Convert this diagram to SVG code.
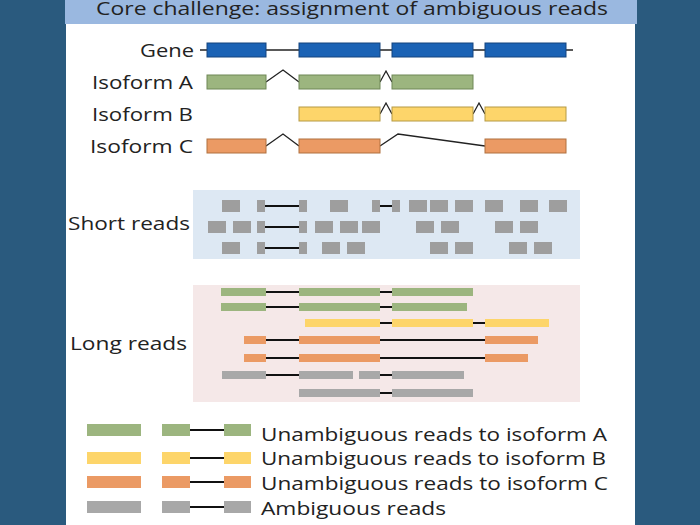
<svg xmlns="http://www.w3.org/2000/svg" width="700" height="525" viewBox="0 0 700 525">
<style>
text{font-family:"Open Sans","Liberation Sans",Arial,sans-serif;font-size:19px;fill:#222}
.b{fill:#1b63b5;stroke:#14457e}.g{fill:#9cb57f;stroke:#6f8757}.y{fill:#fdd56a;stroke:#b59a45}.o{fill:#eb9a64;stroke:#b0703f}.s{fill:#9e9e9e}
.l{stroke:#222;stroke-width:1.3;fill:none}.t{stroke:#111;stroke-width:2;fill:none}
</style>
<rect width="700" height="525" fill="#2a5a7e"/>
<rect x="66" y="0" width="569" height="525" fill="#fff"/>
<rect x="65" y="0" width="572" height="24" fill="#9ab8e0"/>
<text x="96" y="15" textLength="512" lengthAdjust="spacingAndGlyphs">Core challenge: assignment of ambiguous reads</text>
<g id="connectors">
<path class="l" d="M200 50H573"/>
<path class="l" d="M266 82L283 70L299 82M380 82L386 71L392 82"/>
<path class="l" d="M380 114L386 103L392 114M473 114L479 103L485 114"/>
<path class="l" d="M266 146L283 134L299 146M380 146L398 134L485 146"/>
</g>
<g id="gene"><text x="140" y="57" textLength="54" lengthAdjust="spacingAndGlyphs">Gene</text>
<rect class="b" x="207" y="43" width="59" height="14"/><rect class="b" x="299" y="43" width="81" height="14"/><rect class="b" x="392" y="43" width="81" height="14"/><rect class="b" x="485" y="43" width="81" height="14"/></g>
<g id="isoA"><text x="92" y="89" textLength="101" lengthAdjust="spacingAndGlyphs">Isoform A</text>
<rect class="g" x="207" y="75" width="59" height="14"/><rect class="g" x="299" y="75" width="81" height="14"/><rect class="g" x="392" y="75" width="81" height="14"/></g>
<g id="isoB"><text x="92" y="121" textLength="101" lengthAdjust="spacingAndGlyphs">Isoform B</text>
<rect class="y" x="299" y="107" width="81" height="14"/><rect class="y" x="392" y="107" width="81" height="14"/><rect class="y" x="485" y="107" width="81" height="14"/></g>
<g id="isoC"><text x="90" y="153" textLength="103" lengthAdjust="spacingAndGlyphs">Isoform C</text>
<rect class="o" x="207" y="139" width="59" height="14"/><rect class="o" x="299" y="139" width="81" height="14"/><rect class="o" x="485" y="139" width="81" height="14"/></g>
<g id="short">
<rect x="193" y="190" width="387" height="69" fill="#dde8f3"/>
<text x="68" y="230" textLength="122" lengthAdjust="spacingAndGlyphs">Short reads</text>
<g class="s">
<rect x="222" y="200" width="18" height="12"/><rect x="257" y="200" width="8" height="12"/><rect x="299" y="200" width="8" height="12"/><rect x="330" y="200" width="18" height="12"/><rect x="372" y="200" width="8" height="12"/><rect x="392" y="200" width="8" height="12"/><rect x="409" y="200" width="18" height="12"/><rect x="430" y="200" width="18" height="12"/><rect x="455" y="200" width="18" height="12"/><rect x="485" y="200" width="18" height="12"/><rect x="520" y="200" width="18" height="12"/><rect x="549" y="200" width="18" height="12"/>
<rect x="208" y="221" width="18" height="12"/><rect x="233" y="221" width="18" height="12"/><rect x="257" y="221" width="8" height="12"/><rect x="299" y="221" width="8" height="12"/><rect x="315" y="221" width="18" height="12"/><rect x="340" y="221" width="18" height="12"/><rect x="362" y="221" width="18" height="12"/><rect x="416" y="221" width="18" height="12"/><rect x="441" y="221" width="18" height="12"/><rect x="495" y="221" width="18" height="12"/><rect x="520" y="221" width="18" height="12"/>
<rect x="222" y="242" width="18" height="12"/><rect x="257" y="242" width="8" height="12"/><rect x="299" y="242" width="8" height="12"/><rect x="322" y="242" width="18" height="12"/><rect x="347" y="242" width="18" height="12"/><rect x="430" y="242" width="18" height="12"/><rect x="455" y="242" width="18" height="12"/><rect x="509" y="242" width="18" height="12"/><rect x="534" y="242" width="18" height="12"/>
</g>
<path class="t" d="M265 206H299M380 206H392M265 227H299M265 248H299"/>
</g>
<g id="long">
<rect x="193" y="285" width="387" height="117" fill="#f5e8e8"/>
<text x="70" y="350" textLength="117" lengthAdjust="spacingAndGlyphs">Long reads</text>
<path class="t" d="M266 292H299M380 292H392M266 307H299M380 307H392M380 323H392M473 323H485M266 340H299M380 340H485M266 358H299M380 358H485M266 375H299M380 375H392M380 393H392"/>
<g fill="#9cb57f"><rect x="221" y="288" width="45" height="8"/><rect x="299" y="288" width="81" height="8"/><rect x="392" y="288" width="81" height="8"/><rect x="221" y="303" width="45" height="8"/><rect x="299" y="303" width="81" height="8"/><rect x="392" y="303" width="75" height="8"/></g>
<g fill="#fdd56a"><rect x="305" y="319" width="75" height="8"/><rect x="392" y="319" width="81" height="8"/><rect x="485" y="319" width="64" height="8"/></g>
<g fill="#eb9a64"><rect x="244" y="336" width="22" height="8"/><rect x="299" y="336" width="81" height="8"/><rect x="485" y="336" width="53" height="8"/><rect x="244" y="354" width="22" height="8"/><rect x="299" y="354" width="81" height="8"/><rect x="485" y="354" width="43" height="8"/></g>
<g fill="#a8a8a8"><rect x="222" y="371" width="44" height="8"/><rect x="299" y="371" width="54" height="8"/><rect x="359" y="371" width="21" height="8"/><rect x="392" y="371" width="72" height="8"/><rect x="299" y="389" width="81" height="8"/><rect x="392" y="389" width="81" height="8"/></g>
</g>
<g id="legend">
<path class="t" d="M190 430H224M190 458H224M190 482H224M190 507H224"/>
<g fill="#9cb57f"><rect x="87" y="424" width="54" height="12"/><rect x="162" y="424" width="28" height="12"/><rect x="224" y="424" width="27" height="12"/></g>
<g fill="#fdd56a"><rect x="87" y="452" width="54" height="12"/><rect x="162" y="452" width="28" height="12"/><rect x="224" y="452" width="27" height="12"/></g>
<g fill="#eb9a64"><rect x="87" y="476" width="54" height="12"/><rect x="162" y="476" width="28" height="12"/><rect x="224" y="476" width="27" height="12"/></g>
<g fill="#a8a8a8"><rect x="87" y="501" width="54" height="12"/><rect x="162" y="501" width="28" height="12"/><rect x="224" y="501" width="27" height="12"/></g>
<text x="261" y="441" textLength="346" lengthAdjust="spacingAndGlyphs">Unambiguous reads to isoform A</text>
<text x="261" y="465" textLength="345" lengthAdjust="spacingAndGlyphs">Unambiguous reads to isoform B</text>
<text x="261" y="490" textLength="347" lengthAdjust="spacingAndGlyphs">Unambiguous reads to isoform C</text>
<text x="261" y="515" textLength="185" lengthAdjust="spacingAndGlyphs">Ambiguous reads</text>
</g>
</svg>
